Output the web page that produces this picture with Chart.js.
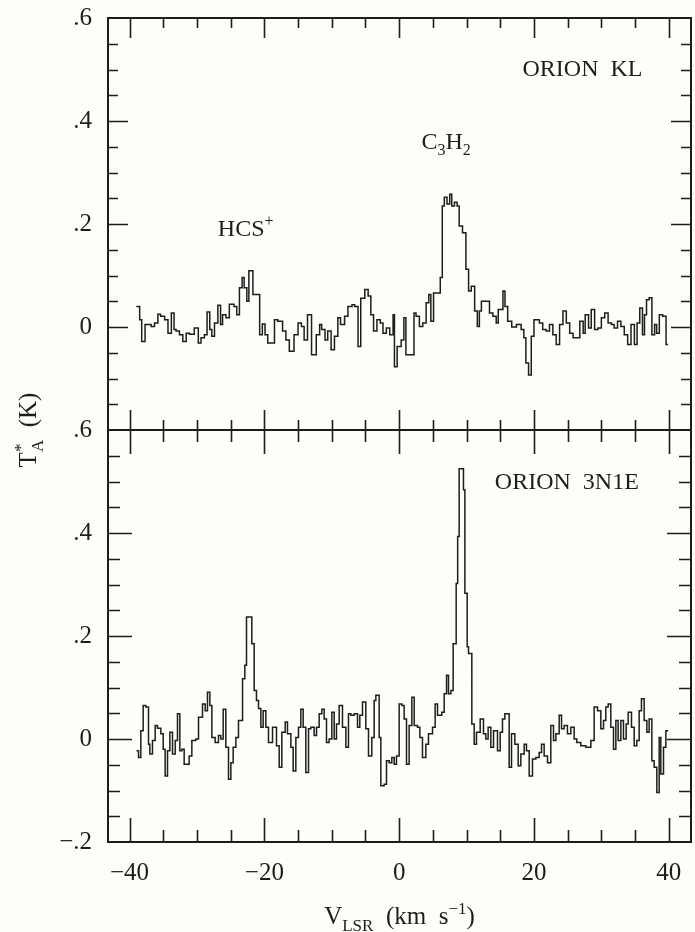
<!DOCTYPE html>
<html>
<head>
<meta charset="utf-8">
<title>HCS+ and C3H2 toward Orion</title>
<script src="https://cdn.jsdelivr.net/npm/chart.js@4.4.0/dist/chart.umd.min.js"></script>
<style>
  html, body { margin: 0; padding: 0; background: #fdfdf9; }
  #wrap { position: relative; width: 695px; height: 932px; }
</style>
</head>
<body>
<div id="wrap"><canvas id="spectra" width="695" height="932"></canvas></div>
<script>
// Velocity axis (km/s)
const velMin = -43.2;
const velMax = 43.3;
const velMajorTicks = [-40, -20, 0, 20, 40];
const velMinorTicks = [-40, -35, -30, -25, -20, -15, -10, -5, 0, 5, 10, 15, 20, 25, 30, 35, 40];

// Antenna temperature axis (K), same for both panels
const tempMin = -0.2;
const tempMax = 0.6;
const tempMajorTicks = [-0.2, 0, 0.2, 0.4, 0.6];
const tempMinorTicks = [-0.2, -0.15, -0.1, -0.05, 0, 0.05, 0.1, 0.15, 0.2, 0.25, 0.3, 0.35, 0.4, 0.45, 0.5, 0.55, 0.6];

// ORION KL: channel left edges (last entry closes the final channel) and T_A*
const klVel = [
  -39.0, -38.5, -38.2, -37.7, -36.8, -36.3, -35.8, -35.4, -34.8, -34.3,
  -33.8, -33.4, -33.1, -32.6, -32.1, -31.6, -31.1, -30.4, -29.8, -29.4,
  -28.9, -28.5, -28.1, -27.8, -27.4, -26.9, -26.5, -26.2, -25.7, -25.2,
  -24.5, -24.1, -23.7, -23.3, -23.0, -22.6, -22.3, -21.7, -20.7, -20.3,
  -19.9, -19.5, -18.5, -18.0, -17.3, -16.8, -16.3, -15.6, -15.0, -14.5,
  -14.1, -13.6, -13.0, -12.3, -11.8, -11.5, -11.0, -10.6, -10.1, -9.6,
  -9.1, -8.7, -8.1, -7.6, -7.0, -6.6, -6.1, -5.7, -5.1, -4.6,
  -4.2, -3.8, -3.3, -2.8, -2.4, -1.9, -1.4, -0.9, -0.7, -0.3,
  0.3, 0.7, 1.0, 2.2, 2.5, 3.0, 3.5, 4.0, 4.4, 4.7,
  5.1, 6.1, 6.4, 6.7, 7.1, 7.5, 7.8, 8.2, 8.6, 8.9,
  9.4, 9.9, 10.3, 10.7, 11.2, 11.6, 11.9, 12.2, 13.4, 13.9,
  14.4, 14.7, 15.4, 15.7, 16.1, 16.7, 17.4, 18.1, 18.5, 18.8,
  19.2, 19.6, 20.0, 20.8, 21.3, 21.8, 22.3, 22.8, 23.3, 23.8,
  24.3, 24.8, 25.3, 25.8, 26.8, 27.3, 27.6, 28.1, 28.5, 29.0,
  29.5, 30.0, 30.5, 31.0, 31.5, 31.9, 32.4, 32.9, 33.4, 33.9,
  34.4, 34.9, 35.3, 35.7, 36.1, 36.4, 36.7, 37.1, 37.5, 37.9,
  38.2, 38.6, 39.1, 39.6, 39.9
];
const klTemp = [
  0.040, 0.014, -0.028, 0.005, 0.001, 0.008, 0.025, 0.021, 0.014, -0.012,
  0.027, -0.005, -0.008, -0.015, -0.028, -0.012, -0.014, -0.002, -0.031, -0.021,
  -0.015, 0.029, -0.005, -0.018, 0.008, 0.042, 0.005, 0.024, 0.018, 0.044,
  0.040, 0.024, 0.076, 0.096, 0.076, 0.050, 0.109, 0.063, -0.015, 0.006,
  -0.015, -0.031, 0.014, 0.011, -0.008, -0.025, -0.047, -0.015, 0.008, 0.001,
  -0.025, 0.024, -0.054, -0.015, 0.005, -0.005, -0.025, -0.008, -0.044, -0.018,
  0.018, 0.005, 0.021, 0.040, 0.043, 0.040, -0.038, 0.056, 0.073, 0.060,
  0.024, -0.008, 0.014, 0.008, -0.012, -0.002, -0.015, 0.024, -0.077, -0.038,
  -0.025, 0.018, -0.054, 0.027, 0.021, 0.001, 0.008, 0.047, 0.063, 0.011,
  0.066, 0.096, 0.235, 0.252, 0.239, 0.258, 0.235, 0.242, 0.235, 0.196,
  0.183, 0.112, 0.070, 0.079, 0.031, 0.001, 0.031, 0.050, 0.027, 0.021,
  0.008, 0.034, 0.070, 0.040, 0.011, 0.000, 0.005, -0.005, -0.021, -0.070,
  -0.093, -0.018, 0.014, 0.008, -0.005, -0.008, 0.005, -0.015, -0.034, 0.005,
  0.031, 0.008, -0.012, -0.021, 0.011, -0.012, 0.024, -0.002, 0.034, -0.005,
  -0.002, 0.018, 0.027, 0.008, 0.005, -0.002, 0.011, 0.001, -0.015, -0.034,
  0.005, -0.034, 0.008, 0.037, -0.015, 0.024, 0.053, 0.057, -0.015, 0.005,
  -0.012, 0.024, 0.021, -0.034
];

// ORION 3N1E: channel left edges (plus closing edge) and T_A*
const n1eVel = [
  -38.97, -38.67, -38.33, -37.98, -37.59, -37.19, -36.99, -36.60, -36.20, -35.86,
  -35.36, -35.01, -34.72, -34.37, -34.02, -33.63, -33.23, -32.89, -32.54, -32.24,
  -31.90, -31.16, -30.76, -30.17, -29.77, -29.18, -28.78, -28.44, -28.09, -27.79,
  -27.30, -26.81, -26.46, -26.11, -25.72, -25.32, -24.97, -24.63, -24.23, -23.84,
  -23.24, -22.90, -22.65, -21.86, -21.51, -21.17, -20.87, -20.52, -20.18, -19.78,
  -19.39, -18.79, -18.20, -17.80, -17.41, -16.91, -16.57, -16.07, -15.73, -15.33,
  -14.94, -14.59, -14.24, -13.85, -13.45, -13.11, -12.61, -12.26, -11.87, -11.47,
  -11.13, -10.78, -10.39, -9.99, -9.64, -9.30, -8.90, -8.41, -7.91, -7.52,
  -7.17, -6.68, -6.18, -5.84, -5.44, -4.95, -4.55, -4.06, -3.71, -3.46,
  -2.97, -2.72, -2.23, -1.88, -1.48, -1.09, -0.74, -0.40, 0.00, 0.40,
  0.74, 1.09, 1.48, 1.88, 2.23, 2.72, 3.07, 3.46, 3.96, 4.35,
  4.95, 5.34, 5.69, 6.33, 6.68, 7.03, 7.32, 7.67, 8.01, 8.46,
  8.68, 8.90, 9.54, 9.75, 10.09, 10.29, 10.78, 11.13, 11.47, 12.02,
  12.51, 12.86, 13.20, 13.60, 14.00, 14.59, 14.99, 15.33, 15.68, 16.32,
  16.67, 17.16, 17.66, 18.05, 18.55, 18.89, 19.29, 19.78, 20.28, 20.77,
  21.12, 21.51, 22.01, 22.50, 22.90, 23.25, 23.74, 24.09, 24.48, 24.97,
  25.47, 25.96, 26.36, 26.95, 27.70, 28.44, 28.93, 29.43, 29.92, 30.32,
  30.66, 31.01, 31.40, 31.80, 32.15, 32.49, 32.89, 33.28, 33.68, 33.98,
  34.47, 34.87, 35.26, 35.61, 35.95, 36.35, 36.75, 37.09, 37.49, 37.83,
  38.23, 38.58, 38.82, 39.22, 39.57, 39.91
];
const n1eTemp = [
  -0.023, -0.036, 0.016, 0.065, 0.062, -0.010, -0.029, -0.003, 0.026, 0.021,
  0.010, -0.020, -0.072, -0.023, 0.013, -0.029, -0.003, 0.049, -0.023, -0.020,
  -0.049, -0.033, -0.003, 0.000, 0.042, 0.068, 0.055, 0.091, 0.065, 0.003,
  -0.007, 0.007, 0.000, 0.058, -0.016, -0.078, -0.046, -0.016, 0.003, 0.036,
  0.117, 0.143, 0.237, 0.185, 0.094, 0.075, 0.059, 0.023, 0.055, 0.023,
  -0.007, 0.023, -0.013, -0.055, 0.013, 0.033, 0.010, -0.016, -0.062, 0.003,
  0.023, 0.058, 0.023, -0.065, 0.020, 0.023, 0.007, 0.023, 0.049, 0.058,
  0.039, -0.007, 0.000, 0.052, 0.000, 0.029, 0.065, 0.023, -0.016, 0.049,
  0.046, 0.049, 0.023, 0.046, 0.072, 0.020, -0.033, 0.003, 0.075, 0.085,
  0.003, -0.091, -0.088, -0.042, -0.046, -0.036, -0.049, -0.033, 0.068, 0.065,
  0.039, -0.049, 0.026, 0.081, 0.026, 0.023, 0.003, -0.036, -0.010, 0.010,
  0.023, 0.068, 0.046, 0.052, 0.088, 0.124, 0.088, 0.094, 0.185, 0.302,
  0.393, 0.525, 0.484, 0.283, 0.179, 0.166, 0.029, -0.010, 0.013, 0.039,
  0.010, 0.000, 0.023, -0.016, 0.016, -0.023, 0.013, 0.039, 0.049, -0.055,
  0.010, -0.010, -0.052, -0.029, -0.010, -0.023, -0.072, -0.039, -0.036, -0.026,
  -0.010, -0.033, -0.046, 0.026, -0.003, 0.010, 0.046, 0.020, 0.026, 0.010,
  0.023, 0.000, -0.007, -0.013, -0.016, -0.003, 0.062, 0.055, 0.020, 0.036,
  0.062, 0.068, 0.023, -0.020, 0.036, -0.003, 0.036, 0.000, 0.029, 0.052,
  0.023, -0.013, -0.003, 0.055, 0.078, 0.036, 0.013, 0.039, -0.042, -0.055,
  -0.104, 0.003, -0.068, -0.016, 0.016
];

const FONT = '"Liberation Serif", "Times New Roman", serif';
const INK = '#1d1d1d';

// histogram points: value held from each left edge to the next one
function channels(edges, temps) {
  const pts = temps.map((t, i) => ({ x: edges[i], y: t }));
  pts.push({ x: edges[temps.length], y: temps[temps.length - 1] });
  return pts;
}

function fmtTemp(v) {
  if (Math.abs(v) < 1e-9) return '0';
  return (v < 0 ? '\u2212' : '') + Math.abs(v).toFixed(1).replace(/^0/, '');
}
function fmtVel(v) {
  return (v < 0 ? '\u2212' : '') + Math.abs(v);
}

// text with sub/superscript pieces: [text, 'sub'|'sup'|'', keepX]
function drawRuns(ctx, runs, x, y, size, align) {
  const small = Math.round(size * 0.68);
  const widths = runs.map(([t, kind, keep]) => {
    ctx.font = (kind ? small : size) + 'px ' + FONT;
    return keep ? 0 : ctx.measureText(t).width;
  });
  const total = widths.reduce((a, b) => a + b, 0);
  let cx = align === 'center' ? x - total / 2 : x;
  ctx.textAlign = 'left';
  ctx.textBaseline = 'alphabetic';
  runs.forEach(([t, kind], i) => {
    ctx.font = (kind ? small : size) + 'px ' + FONT;
    const dy = kind === 'sub' ? size * 0.26 : kind === 'sup' ? -size * 0.42 : 0;
    ctx.fillText(t, cx, y + dy);
    cx += widths[i];
  });
}

// line labels, placed in data coordinates of their panel
const notes = [
  { axis: 'yTop', v: 18.3, t: 0.488, runs: [['ORION  KL']] },
  { axis: 'yTop', v: 3.3, t: 0.346, runs: [['C'], ['3', 'sub'], ['H'], ['2', 'sub']] },
  { axis: 'yTop', v: -26.9, t: 0.177, runs: [['HCS'], ['+', 'sup']] },
  { axis: 'yBot', v: 14.2, t: 0.486, runs: [['ORION  3N1E']] }
];

const panelFrames = {
  id: 'panelFrames',
  afterDatasetsDraw(chart) {
    const ctx = chart.ctx;
    const xs = chart.scales.x;
    const tickLen = { yTop: [20, 10], yBot: [24, 12] };
    ctx.save();
    ctx.strokeStyle = INK;
    ['yTop', 'yBot'].forEach(id => {
      const ys = chart.scales[id];
      const [big, small] = tickLen[id];
      ctx.lineWidth = 2;
      ctx.strokeRect(xs.left, ys.top, xs.right - xs.left, ys.bottom - ys.top);
      ctx.lineWidth = 1.6;
      ctx.beginPath();
      velMinorTicks.forEach(v => {
        const px = Math.round(xs.getPixelForValue(v)) + 0.5;
        const len = velMajorTicks.includes(v) ? big : small;
        ctx.moveTo(px, ys.top); ctx.lineTo(px, ys.top + len);
        ctx.moveTo(px, ys.bottom); ctx.lineTo(px, ys.bottom - len);
      });
      tempMinorTicks.forEach(t => {
        if (t <= tempMin || t >= tempMax) return;
        const py = Math.round(ys.getPixelForValue(t)) + 0.5;
        const len = tempMajorTicks.some(m => Math.abs(m - t) < 1e-6) ? big : small;
        ctx.moveTo(xs.left, py); ctx.lineTo(xs.left + len, py);
        ctx.moveTo(xs.right, py); ctx.lineTo(xs.right - len, py);
      });
      ctx.stroke();
    });

    ctx.fillStyle = INK;
    notes.forEach(n => {
      const ys = chart.scales[n.axis];
      drawRuns(ctx, n.runs, xs.getPixelForValue(n.v), ys.getPixelForValue(n.t), 24, 'left');
    });

    // axis titles
    drawRuns(ctx, [['V'], ['LSR', 'sub'], ['  (km  s'], ['\u22121', 'sup'], [')']],
      (xs.left + xs.right) / 2, 924, 25, 'center');
    ctx.translate(36, (chart.scales.yTop.top + chart.scales.yBot.bottom) / 2);
    ctx.rotate(-Math.PI / 2);
    drawRuns(ctx, [['T'], ['*', 'sup', true], ['A', 'sub'], ['  (K)']], 0, 0, 25, 'center');
    ctx.restore();
  }
};

function panelAxis(showLow) {
  return {
    type: 'linear',
    position: 'left',
    stack: 'panels',
    stackWeight: 1,
    min: tempMin,
    max: tempMax,
    grid: { display: false, drawTicks: false },
    border: { display: false },
    afterBuildTicks: s => {
      s.ticks = tempMajorTicks.filter(t => showLow || t > tempMin).map(t => ({ value: t }));
    },
    afterFit: s => {
      s.width = 108;
      s.paddingTop = 0;
      s.paddingBottom = 0;
    },
    ticks: {
      color: INK,
      padding: 16,
      font: { family: FONT, size: 25 },
      callback: v => fmtTemp(v)
    }
  };
}

new Chart(document.getElementById('spectra'), {
  type: 'line',
  data: {
    datasets: [
      {
        label: 'ORION KL',
        data: channels(klVel, klTemp),
        yAxisID: 'yTop'
      },
      {
        label: 'ORION 3N1E',
        data: channels(n1eVel, n1eTemp),
        yAxisID: 'yBot'
      }
    ]
  },
  options: {
    responsive: false,
    animation: false,
    parsing: false,
    layout: { padding: { top: 18, right: 4, left: 0, bottom: 0 } },
    elements: {
      line: { stepped: 'before', borderColor: INK, borderWidth: 1.5, fill: false, tension: 0 },
      point: { radius: 0, hoverRadius: 0 }
    },
    plugins: { legend: { display: false }, tooltip: { enabled: false } },
    events: [],
    scales: {
      x: {
        type: 'linear',
        min: velMin,
        max: velMax,
        grid: { display: false, drawTicks: false },
        border: { display: false },
        afterBuildTicks: s => { s.ticks = velMajorTicks.map(v => ({ value: v })); },
        afterFit: s => {
          s.height = 90;
          s.paddingLeft = 0;
          s.paddingRight = 0;
        },
        ticks: {
          color: INK,
          padding: 16,
          maxRotation: 0,
          font: { family: FONT, size: 25 },
          callback: v => fmtVel(v)
        }
      },
      yBot: Object.assign(panelAxis(true), { weight: 1 }),
      yTop: Object.assign(panelAxis(false), { weight: 2 })
    }
  },
  plugins: [panelFrames]
});
</script>
</body>
</html>
